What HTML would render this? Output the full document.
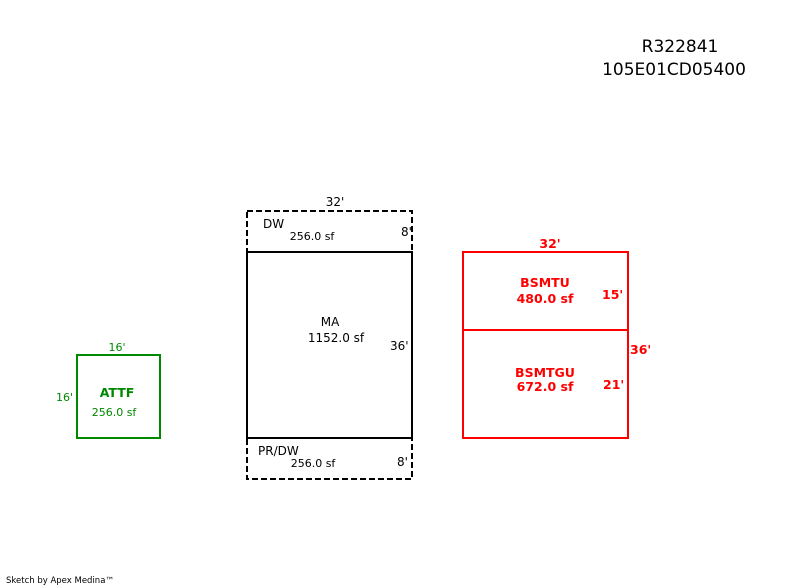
<!DOCTYPE html>
<html><head><style>body{margin:0;background:#fff}svg{display:block}text{font-family:"DejaVu Sans","Liberation Sans",sans-serif}</style></head>
<body>
<svg width="800" height="587" viewBox="0 0 800 587" xmlns="http://www.w3.org/2000/svg">
<text x="680" y="52" font-size="17" text-anchor="middle">R322841</text>
<text x="674" y="75" font-size="17" text-anchor="middle">105E01CD05400</text>
<g fill="none" stroke="#000" stroke-width="2">
<rect x="247" y="211" width="165" height="41" stroke-dasharray="6,3"/>
<rect x="247" y="438" width="165" height="41" stroke-dasharray="6,3"/>
<rect x="247" y="252" width="165" height="186"/>
</g>
<g font-size="12" fill="#000">
<text x="335" y="206" text-anchor="middle">32'</text>
<text x="263" y="228">DW</text>
<text x="312" y="240" font-size="11" text-anchor="middle">256.0 sf</text>
<text x="401" y="236">8'</text>
<text x="330" y="326" text-anchor="middle">MA</text>
<text x="336" y="342" text-anchor="middle">1152.0 sf</text>
<text x="390" y="350">36'</text>
<text x="258" y="455">PR/DW</text>
<text x="313" y="467" font-size="11" text-anchor="middle">256.0 sf</text>
<text x="397" y="466">8'</text>
</g>
<g fill="none" stroke="#f00" stroke-width="2">
<rect x="463" y="252" width="165" height="186"/>
<line x1="463" y1="330" x2="628" y2="330"/>
</g>
<g font-size="12.5" fill="#f00" font-weight="bold">
<text x="550" y="248" text-anchor="middle">32'</text>
<text x="545" y="287" text-anchor="middle">BSMTU</text>
<text x="545" y="303" text-anchor="middle">480.0 sf</text>
<text x="602" y="299">15'</text>
<text x="630" y="354">36'</text>
<text x="545" y="377" text-anchor="middle">BSMTGU</text>
<text x="545" y="391" text-anchor="middle">672.0 sf</text>
<text x="603" y="389">21'</text>
</g>
<rect x="77" y="355" width="83" height="83" fill="none" stroke="#080" stroke-width="2"/>
<g font-size="11" fill="#080">
<text x="117" y="351" text-anchor="middle">16'</text>
<text x="56" y="401">16'</text>
<text x="117" y="397" text-anchor="middle" font-weight="bold" font-size="12.5">ATTF</text>
<text x="114" y="416" text-anchor="middle">256.0 sf</text>
</g>
<text x="6" y="583" font-size="8.5">Sketch by Apex Medina™</text>
</svg>
</body></html>
